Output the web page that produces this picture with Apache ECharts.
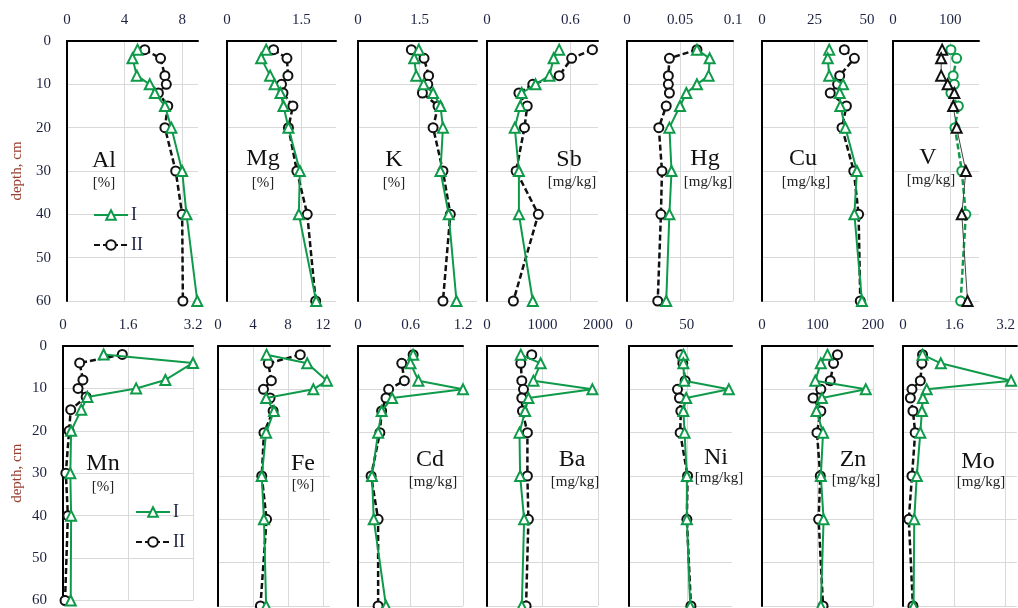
<!DOCTYPE html>
<html>
<head>
<meta charset="utf-8">
<script src="https://cdn.jsdelivr.net/npm/echarts@6/dist/echarts.min.js"></script>
<style>
  html, body { margin: 0; padding: 0; background: #fff; }
  #chart { width: 1018px; height: 608px; }
</style>
</head>
<body>
<div id="chart"></div>
<script>
// depth of each sample, cm (same for both profiles)
const depth = [2, 4, 8, 10, 12, 15, 20, 30, 40, 60]

// profile I / profile II values per element
const al1 = [4.9, 4.55, 4.85, 5.75, 6.1, 6.8, 7.25, 8.0, 8.3, 9.05]
const al2 = [5.4, 6.5, 6.8, 6.9, 6.35, 7.0, 6.8, 7.55, 8.0, 8.05]
const mg1 = [0.79, 0.69, 0.87, 0.96, 1.08, 1.14, 1.24, 1.47, 1.45, 1.80]
const mg2 = [0.94, 1.21, 1.23, 1.10, 1.13, 1.33, 1.24, 1.41, 1.62, 1.79]
const k1 = [1.48, 1.37, 1.42, 1.60, 1.83, 2.01, 2.07, 2.01, 2.21, 2.40]
const k2 = [1.30, 1.61, 1.72, 1.70, 1.57, 1.95, 1.83, 2.07, 2.25, 2.07]
const sb1 = [0.52, 0.48, 0.45, 0.35, 0.25, 0.24, 0.20, 0.23, 0.23, 0.33]
const sb2 = [0.76, 0.61, 0.52, 0.33, 0.23, 0.29, 0.27, 0.21, 0.37, 0.19]
const hg1 = [0.066, 0.078, 0.077, 0.066, 0.056, 0.050, 0.040, 0.042, 0.040, 0.037]
const hg2 = [0.066, 0.040, 0.039, 0.039, 0.040, 0.037, 0.030, 0.033, 0.032, 0.029]
const cu1 = [32, 31.3, 32, 38.6, 37, 37.3, 39.7, 45.2, 44, 47.6]
const cu2 = [39.2, 44, 37, 36, 32.5, 40.2, 38.1, 43.7, 46, 46.8]
const v1 = [85.7, 84, 84, 95.4, 107, 105, 111, 127, 120, 130]
const v2 = [101, 111, 105, 107, 101, 114, 108, 120, 127, 118]
const mn1 = [1.0, 3.2, 2.52, 1.8, 0.6, 0.45, 0.2, 0.18, 0.2, 0.19]
const mn2 = [1.46, 0.41, 0.49, 0.37, 0.57, 0.19, 0.15, 0.07, 0.12, 0.05]
const fe1 = [5.55, 10.2, 12.45, 10.9, 5.5, 6.4, 5.5, 5.0, 5.25, 5.5]
const fe2 = [9.4, 5.75, 6.1, 5.2, 5.95, 6.3, 5.25, 5.0, 5.55, 4.85]
const cd1 = [0.63, 0.60, 0.69, 1.2, 0.39, 0.27, 0.23, 0.16, 0.18, 0.32]
const cd2 = [0.63, 0.50, 0.53, 0.35, 0.32, 0.27, 0.25, 0.15, 0.23, 0.23]
const ba1 = [609, 967, 836, 1899, 746, 687, 585, 597, 669, 627]
const ba2 = [806, 609, 627, 657, 627, 639, 728, 728, 746, 704]
const ni1 = [47, 47, 47.7, 86.3, 49.4, 47, 48, 50, 50, 52.9]
const ni2 = [44.8, 46.5, 48.5, 41.9, 43.6, 44.8, 44.2, 50.6, 50, 53.5]
const zn1 = [118, 106, 96, 187, 108, 98, 110, 106, 111, 106]
const zn2 = [136, 129, 123, 106, 92, 106, 99, 105, 102, 110]
const mo1 = [0.61, 1.18, 3.37, 0.74, 0.62, 0.59, 0.54, 0.43, 0.35, 0.33]
const mo2 = [0.61, 0.59, 0.54, 0.28, 0.23, 0.31, 0.38, 0.28, 0.18, 0.31]

const GREEN = '#0f9a4a'
const TEXT = '#1c2240'
const SERIF = '"Liberation Serif", "DejaVu Serif", serif'

// panel layout
const panels = [
  { el: 'Al', unit: '[%]', row: 0, left: 67, width: 131, max: 9.1, interval: 4, d1: al1, d2: al2, lx: 104, ly: 161, uy: 183 },
  { el: 'Mg', unit: '[%]', row: 0, left: 227, width: 109, max: 2.2, interval: 1.5, d1: mg1, d2: mg2, lx: 263, ly: 159, uy: 183 },
  { el: 'K', unit: '[%]', row: 0, left: 358, width: 119, max: 2.9, interval: 1.5, d1: k1, d2: k2, lx: 394, ly: 160, uy: 183 },
  { el: 'Sb', unit: '[mg/kg]', row: 0, left: 487, width: 111, max: 0.8, interval: 0.6, d1: sb1, d2: sb2, lx: 569, ly: 160, uy: 182 },
  { el: 'Hg', unit: '[mg/kg]', row: 0, left: 627, width: 106, max: 0.1, interval: 0.05, d1: hg1, d2: hg2, lx: 705, ly: 159, uy: 182 },
  { el: 'Cu', unit: '[mg/kg]', row: 0, left: 762, width: 105, max: 50, interval: 25, d1: cu1, d2: cu2, lx: 803, ly: 159, uy: 182 },
  { el: 'V', unit: '[mg/kg]', row: 0, left: 893, width: 86, max: 150, interval: 100, d1: v1, d2: v2, lx: 928, ly: 158, uy: 180, swap: true },
  { el: 'Mn', unit: '[%]', row: 1, left: 63, width: 130, max: 3.2, interval: 1.6, d1: mn1, d2: mn2, lx: 103, ly: 464, uy: 487 },
  { el: 'Fe', unit: '[%]', row: 1, left: 218, width: 112, max: 12.8, interval: 4, d1: fe1, d2: fe2, lx: 303, ly: 464, uy: 485 },
  { el: 'Cd', unit: '[mg/kg]', row: 1, left: 358, width: 105, max: 1.2, interval: 0.6, d1: cd1, d2: cd2, lx: 430, ly: 460, uy: 482 },
  { el: 'Ba', unit: '[mg/kg]', row: 1, left: 487, width: 111, max: 2000, interval: 1000, d1: ba1, d2: ba2, lx: 572, ly: 460, uy: 482 },
  { el: 'Ni', unit: '[mg/kg]', row: 1, left: 629, width: 103, max: 89, interval: 50, d1: ni1, d2: ni2, lx: 716, ly: 458, uy: 478 },
  { el: 'Zn', unit: '[mg/kg]', row: 1, left: 762, width: 111, max: 200, interval: 100, d1: zn1, d2: zn2, lx: 853, ly: 460, uy: 480 },
  { el: 'Mo', unit: '[mg/kg]', row: 1, left: 903, width: 115, max: 3.55, interval: 1.6, d1: mo1, d2: mo2, lx: 978, ly: 462, uy: 482 }
]

const rowTop = [41, 346]
const rowHeight = 260

const chart = echarts.init(document.getElementById('chart'))

const grid = []
const xAxis = []
const yAxis = []
const series = []
const graphic = []

// plain numbers, no thousands separator
const plainNumber = v => String(+v.toFixed(4))

panels.forEach((p, i) => {
  const firstInRow = i === 0 || i === 7
  const onTick = Math.abs(p.max / p.interval - Math.round(p.max / p.interval)) < 1e-6

  grid.push({ left: p.left, top: rowTop[p.row], width: p.width, height: rowHeight })

  xAxis.push({
    type: 'value',
    gridIndex: i,
    position: 'top',
    min: 0,
    max: p.max,
    interval: p.interval,
    axisLine: { show: true, onZero: false, lineStyle: { color: '#000', width: 2 } },
    axisTick: { show: false },
    axisLabel: {
      margin: 13,
      showMaxLabel: onTick,
      formatter: plainNumber,
      fontFamily: SERIF,
      fontSize: 15,
      color: TEXT
    },
    splitLine: { show: true, showMinLine: false, showMaxLine: onTick, lineStyle: { color: '#d9d9d9', width: 1 } }
  })

  yAxis.push({
    type: 'value',
    gridIndex: i,
    inverse: true,
    min: 0,
    max: 60,
    interval: 10,
    name: firstInRow ? 'depth, cm' : '',
    nameLocation: 'middle',
    nameGap: firstInRow ? (p.row === 0 ? 42 : 38) : 0,
    nameTextStyle: { fontFamily: SERIF, fontSize: 15, color: '#9a4032' },
    axisLine: { show: true, onZero: false, lineStyle: { color: '#000', width: 2 } },
    axisTick: { show: false },
    axisLabel: {
      show: firstInRow,
      margin: 16,
      fontFamily: SERIF,
      fontSize: 15,
      color: TEXT
    },
    splitLine: { show: true, showMinLine: false, lineStyle: { color: '#d9d9d9', width: 1 } }
  })

  const c1 = p.swap ? '#111' : GREEN
  const c2 = p.swap ? GREEN : '#111'

  series.push({
    name: 'I',
    type: 'line',
    xAxisIndex: i,
    yAxisIndex: i,
    data: p.d1.map((v, j) => [v, depth[j]]),
    symbol: 'emptyTriangle',
    symbolSize: 10,
    clip: false,
    itemStyle: { color: c1, borderWidth: 2 },
    lineStyle: { color: p.swap ? '#444' : GREEN, width: p.swap ? 1 : 2 },
    z: 3
  })
  series.push({
    name: 'II',
    type: 'line',
    xAxisIndex: i,
    yAxisIndex: i,
    data: p.d2.map((v, j) => [v, depth[j]]),
    symbol: 'emptyCircle',
    symbolSize: 9,
    clip: false,
    itemStyle: { color: c2, borderWidth: 1.5 },
    lineStyle: { color: c2, width: 2.5, type: [6, 3] },
    z: 2
  })

  graphic.push({
    type: 'text',
    x: p.lx,
    y: p.ly,
    style: {
      text: p.el,
      font: '24px ' + SERIF,
      fill: '#111',
      align: 'center',
      verticalAlign: 'middle',
      textAlign: 'center',
      textVerticalAlign: 'middle'
    },
    z: 10
  })
  graphic.push({
    type: 'text',
    x: p.lx + (p.unit === '[%]' ? 0 : 3),
    y: p.uy,
    style: {
      text: p.unit,
      font: '15px ' + SERIF,
      fill: '#222',
      align: 'center',
      verticalAlign: 'middle',
      textAlign: 'center',
      textVerticalAlign: 'middle'
    },
    z: 10
  })
})

const legendBase = {
  orient: 'vertical',
  itemWidth: 34,
  itemHeight: 12,
  itemGap: 12,
  selectedMode: false,
  data: ['I', 'II'],
  textStyle: { fontFamily: SERIF, fontSize: 18, color: TEXT, padding: [0, 0, 0, -2] }
}

const option = {
  animation: false,
  backgroundColor: '#fff',
  grid: grid,
  xAxis: xAxis,
  yAxis: yAxis,
  series: series,
  graphic: graphic,
  legend: [
    Object.assign({}, legendBase, { left: 88, top: 201 }),
    Object.assign({}, legendBase, { left: 130, top: 498 })
  ]
}

chart.setOption(option)

window.addEventListener('resize', () => {
  chart.resize()
})
</script>
</body>
</html>
